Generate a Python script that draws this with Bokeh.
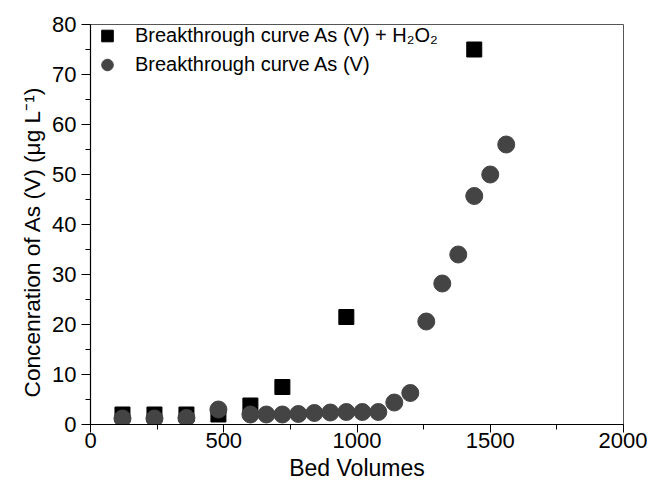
from bokeh.plotting import figure
from bokeh.models import FixedTicker, Legend, LegendItem, Title
from bokeh.embed import file_html
from bokeh.resources import INLINE

# Data
bv_h2o2 = [120, 240, 360, 480, 600, 720, 960, 1440]
as_h2o2 = [2.0, 2.0, 2.0, 2.0, 3.8, 7.5, 21.5, 75.0]

bv_as = [120, 240, 360, 480, 600, 660, 720, 780, 840, 900, 960, 1020, 1080,
         1140, 1200, 1260, 1320, 1380, 1440, 1500, 1560]
as_v = [1.2, 1.2, 1.3, 3.0, 2.0, 2.0, 2.0, 2.1, 2.3, 2.4, 2.5, 2.5, 2.5,
        4.4, 6.3, 20.6, 28.2, 34.0, 45.7, 50.0, 56.0]

x_ticks = [0, 500, 1000, 1500, 2000]
x_minor = [250, 750, 1250, 1750]
y_ticks = [0, 10, 20, 30, 40, 50, 60, 70, 80]
y_minor = [5, 15, 25, 35, 45, 55, 65, 75]

x_title = "Bed Volumes"
y_title = "Concenration of As (V) (\u03bcg L\u207b\u00b9)"
legend_labels = ["Breakthrough curve As (V) + H\u2082O\u2082",
                 "Breakthrough curve As (V)"]

FONT = "Liberation Sans"

p = figure(width=647, height=483, x_range=(0, 2000), y_range=(0, 80),
           output_backend="svg", toolbar_location=None,
           min_border_left=90, min_border_right=24, min_border_top=24,
           min_border_bottom=58)

p.grid.visible = False
p.outline_line_color = "#555555"
p.outline_line_width = 1
p.background_fill_color = "white"
p.border_fill_color = "white"

for ax in (p.xaxis[0], p.yaxis[0]):
    ax.axis_line_color = "black"
    ax.axis_line_width = 1.2
    ax.major_tick_line_color = "black"
    ax.minor_tick_line_color = "black"
    ax.major_tick_in = 0
    ax.minor_tick_in = 0
    ax.major_label_text_font = FONT
    ax.major_label_text_font_size = "22px"
    ax.major_label_text_color = "black"

p.xaxis[0].ticker = FixedTicker(ticks=x_ticks, minor_ticks=x_minor)
p.yaxis[0].ticker = FixedTicker(ticks=y_ticks, minor_ticks=y_minor)
p.xaxis[0].major_tick_out = 8
p.xaxis[0].minor_tick_out = 5
p.yaxis[0].major_tick_out = 9
p.yaxis[0].minor_tick_out = 5
p.xaxis[0].major_label_standoff = 0
p.yaxis[0].major_label_standoff = 5

# Axis titles as side-panel titles (allow an offset along the axis)
p.add_layout(Title(text=x_title, align="center", standoff=5,
                   text_font=FONT, text_font_size="23px",
                   text_font_style="normal", text_color="black"), "below")
p.add_layout(Title(text=y_title, align="left", offset=27, standoff=10,
                   text_font=FONT, text_font_size="22.7px",
                   text_font_style="normal", text_color="black"), "left")

r1 = p.scatter(bv_h2o2, as_h2o2, marker="square", size=15, fill_color="black",
               line_color="black")
r2 = p.scatter(bv_as, as_v, marker="circle", size=17, fill_color="#444444",
               line_color="#444444")

legend = Legend(items=[
    LegendItem(label=legend_labels[0], renderers=[r1]),
    LegendItem(label=legend_labels[1], renderers=[r2]),
], location=(0, 345))
legend.border_line_color = None
legend.background_fill_alpha = 0
legend.margin = 0
legend.padding = 0
legend.glyph_width = 34
legend.glyph_height = 29
legend.spacing = 0
legend.label_standoff = 11
legend.label_text_font = FONT
legend.label_text_font_size = "20px"
legend.label_text_color = "black"
p.add_layout(legend)

open("out.html", "w").write(file_html(p, INLINE))
